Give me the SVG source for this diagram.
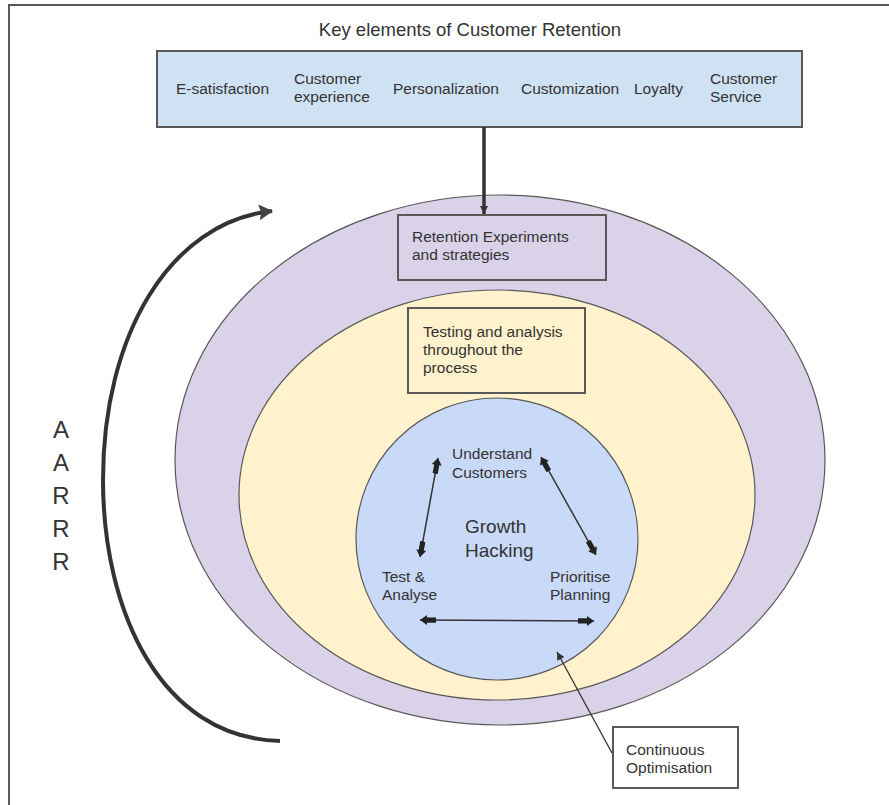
<svg xmlns="http://www.w3.org/2000/svg" width="889" height="805" viewBox="0 0 889 805">
<defs>
<style>
text{font-family:"Liberation Sans",Arial,sans-serif;fill:#333;}
.t{font-size:15.5px;}
.box{stroke:#595959;stroke-width:2;}
.ell{stroke:#595959;stroke-width:1.2;}
.conn{stroke:#333;fill:none;}
</style>
<marker id="dbl" viewBox="0 -6 16 12" refX="16" refY="0" markerWidth="16" markerHeight="12" markerUnits="userSpaceOnUse" orient="auto-start-reverse">
<path d="M0,-2.6 L9,-2.6 L9,-5 L16,0 L9,5 L9,2.6 L0,2.6 Z" fill="#222"/>
</marker>
<marker id="tri" viewBox="0 -5 8 10" refX="8" refY="0" markerWidth="8" markerHeight="10" markerUnits="userSpaceOnUse" orient="auto">
<path d="M0,-4 L8,0 L0,4 Z" fill="#333"/>
</marker>
<marker id="big" viewBox="0 -9 14 18" refX="13" refY="0" markerWidth="14" markerHeight="18" markerUnits="userSpaceOnUse" orient="auto">
<path d="M0,-8 L14,0 L0,8 L2,0 Z" fill="#444"/>
</marker>
</defs>
<rect width="889" height="805" fill="#fff"/>
<path d="M9,805 L9,5 L889,5" fill="none" stroke="#595959" stroke-width="2"/>

<g id="title"><text x="470" y="36" font-size="18.5" text-anchor="middle">Key elements of Customer Retention</text></g>

<g id="key-elements">
<rect class="box" x="157" y="51" width="645" height="76" fill="#cfe2f3"/>
<text class="t" x="176" y="94">E-satisfaction</text>
<text class="t" x="294" y="84">Customer</text>
<text class="t" x="294" y="102">experience</text>
<text class="t" x="393" y="94">Personalization</text>
<text class="t" x="521" y="94">Customization</text>
<text class="t" x="634" y="94">Loyalty</text>
<text class="t" x="710" y="84">Customer</text>
<text class="t" x="710" y="102">Service</text>
</g>

<g id="outer-ellipse"><ellipse class="ell" cx="500" cy="460" rx="325" ry="265" fill="#d9d2e9"/></g>
<g id="middle-ellipse"><ellipse class="ell" cx="497" cy="495" rx="258" ry="205" fill="#fff2cc"/></g>
<g id="growth-circle"><circle class="ell" cx="497" cy="539" r="141" fill="#c9daf8"/></g>

<g id="retention-box">
<rect class="box" x="398" y="215" width="208" height="65" fill="none"/>
<text class="t" x="412" y="242">Retention Experiments</text>
<text class="t" x="412" y="260">and strategies</text>
</g>

<g id="testing-box">
<rect class="box" x="408" y="308" width="177" height="85" fill="none"/>
<text class="t" x="423" y="337">Testing and analysis</text>
<text class="t" x="423" y="355">throughout the</text>
<text class="t" x="423" y="373">process</text>
</g>

<g id="growth-hacking">
<text x="465" y="533" font-size="19">Growth</text>
<text x="465" y="557" font-size="19">Hacking</text>
</g>
<g id="understand"><text class="t" x="452" y="459">Understand</text><text class="t" x="452" y="478">Customers</text></g>
<g id="test"><text class="t" x="382" y="582">Test &amp;</text><text class="t" x="382" y="600">Analyse</text></g>
<g id="prioritise"><text class="t" x="550" y="582">Prioritise</text><text class="t" x="550" y="600">Planning</text></g>

<g id="aarrr" font-size="24" text-anchor="middle">
<text x="61" y="438">A</text>
<text x="61" y="471">A</text>
<text x="61" y="504">R</text>
<text x="61" y="537">R</text>
<text x="61" y="570">R</text>
</g>

<g id="continuous">
<rect class="box" x="613" y="727" width="125" height="61" fill="#fff"/>
<text class="t" x="626" y="755">Continuous</text>
<text class="t" x="626" y="773">Optimisation</text>
</g>

<g id="connectors">
<line class="conn" x1="484" y1="127" x2="484" y2="214" stroke-width="3.5" marker-end="url(#tri)"/>
<line class="conn" x1="420" y1="557" x2="438" y2="458" stroke-width="1.5" marker-start="url(#dbl)" marker-end="url(#dbl)"/>
<line class="conn" x1="541" y1="457" x2="596" y2="555" stroke-width="1.5" marker-start="url(#dbl)" marker-end="url(#dbl)"/>
<line class="conn" x1="420" y1="620" x2="594" y2="621" stroke-width="1.5" marker-start="url(#dbl)" marker-end="url(#dbl)"/>
<line class="conn" x1="612" y1="753" x2="557" y2="652" stroke-width="1.3" marker-end="url(#tri)"/>
<path class="conn" d="M280,741 C160,738 103,610 103,480 C103,335 170,222 272,211" stroke="#444" stroke-width="4" marker-end="url(#big)"/>
</g>
</svg>
